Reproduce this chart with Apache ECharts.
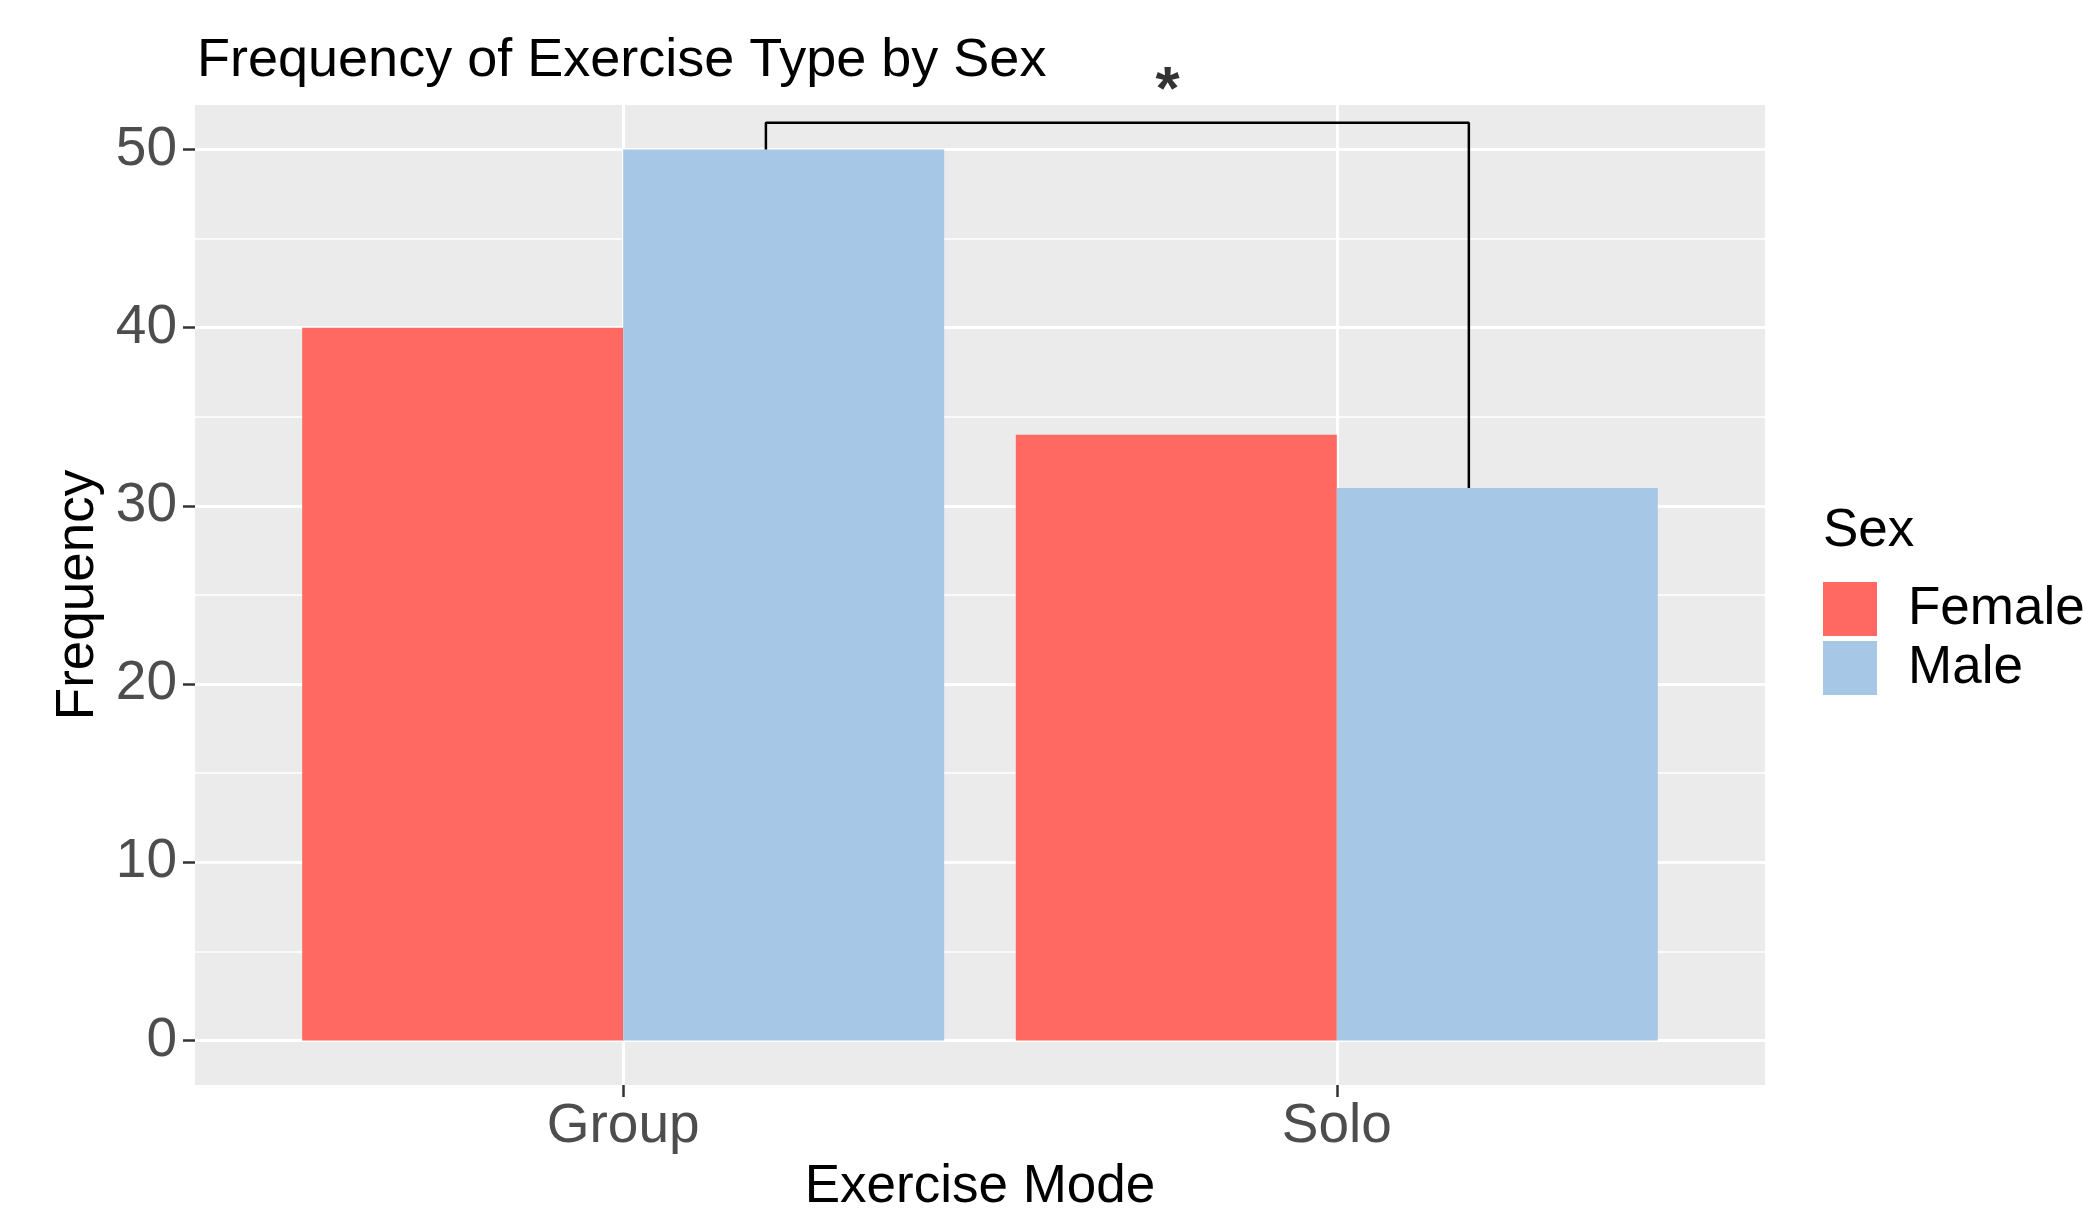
<!DOCTYPE html>
<html>
<head>
<meta charset="utf-8">
<script src="https://cdn.jsdelivr.net/npm/echarts@6/dist/echarts.min.js"></script>
<style>
  html, body { margin: 0; padding: 0; background: #fff; }
  #chart { width: 2083px; height: 1209px; }
</style>
</head>
<body>
<div id="chart"></div>
<script>
const categories = ['Group', 'Solo']
const sexes = ['Female', 'Male']
const femaleCounts = [40, 34]
const maleCounts = [50, 31]
const yTicks = [0, 10, 20, 30, 40, 50]
const yMinorTicks = [5, 15, 25, 35, 45]
// significance bracket and its star
const bracketX = [1.2, 2.185]
const bracketTop = 51.5
const starPos = [1.76, 54]

const font = 'Liberation Sans, Arial, Helvetica, sans-serif'
const catPos = categories.map((c, i) => i + 1)

const chart = echarts.init(document.getElementById('chart'))

chart.setOption({
  animation: false,
  title: [{
    text: 'Frequency of Exercise Type by Sex',
    left: 192,
    top: 29,
    textStyle: { fontFamily: font, fontSize: 54, fontWeight: 'normal', color: '#000' }
  }, {
    text: 'Sex',
    left: 1818,
    top: 500,
    textStyle: { fontFamily: font, fontSize: 53, fontWeight: 'normal', color: '#000' }
  }],
  legend: {
    orient: 'vertical',
    left: 1818,
    top: 577,
    itemWidth: 54,
    itemHeight: 54,
    itemGap: 5,
    icon: 'rect',
    data: sexes,
    textStyle: { fontFamily: font, fontSize: 53, color: '#000', padding: [0, 0, 0, 26] }
  },
  grid: {
    left: 195,
    top: 105,
    width: 1570,
    height: 980,
    show: true,
    backgroundColor: '#EBEBEB',
    borderWidth: 0,
    containLabel: false,
    outerBoundsMode: 'none'
  },
  xAxis: {
    type: 'value',
    min: 0.4,
    max: 2.6,
    name: 'Exercise Mode',
    nameLocation: 'middle',
    nameGap: 76,
    nameTextStyle: { fontFamily: font, fontSize: 53, color: '#000' },
    axisLine: { show: false, onZero: false },
    axisTick: { show: true, length: 12, customValues: catPos, lineStyle: { color: '#333', width: 2.5 } },
    axisLabel: {
      customValues: catPos,
      margin: 14,
      fontFamily: font,
      fontSize: 55,
      color: '#4D4D4D',
      formatter: v => categories[Math.round(v) - 1]
    },
    splitLine: { show: true, lineStyle: { color: '#fff', width: 3 } }
  },
  yAxis: [{
    type: 'value',
    min: -2.5,
    max: 52.5,
    name: 'Frequency',
    nameLocation: 'middle',
    nameRotate: 90,
    nameGap: 86,
    nameTextStyle: { fontFamily: font, fontSize: 53, color: '#000' },
    axisLine: { show: false, onZero: false },
    axisTick: { show: true, length: 12, customValues: yTicks, lineStyle: { color: '#333', width: 2.5 } },
    axisLabel: { customValues: yTicks, margin: 18, fontFamily: font, fontSize: 55, color: '#4D4D4D' },
    splitLine: { show: true, lineStyle: { color: '#fff', width: 3 } }
  }, {
    type: 'value',
    min: -2.5,
    max: 52.5,
    position: 'left',
    axisLine: { show: false, onZero: false },
    axisTick: { show: false, customValues: yMinorTicks },
    axisLabel: { show: false, customValues: yMinorTicks },
    splitLine: { show: true, lineStyle: { color: '#fff', width: 1.5 } }
  }],
  series: [{
    name: 'Female',
    type: 'bar',
    barWidth: 321,
    barGap: '0%',
    itemStyle: { color: '#FF6961' },
    data: catPos.map((x, i) => [x, femaleCounts[i]]),
    z: 3
  }, {
    name: 'Male',
    type: 'bar',
    barWidth: 321,
    barGap: '0%',
    itemStyle: { color: '#A7C7E7' },
    data: catPos.map((x, i) => [x, maleCounts[i]]),
    z: 3
  }, {
    type: 'line',
    symbol: 'none',
    silent: true,
    lineStyle: { color: '#000', width: 2.5 },
    data: [
      [bracketX[0], maleCounts[0]],
      [bracketX[0], bracketTop],
      [bracketX[1], bracketTop],
      [bracketX[1], maleCounts[1]]
    ],
    z: 4
  }, {
    type: 'scatter',
    symbolSize: 1,
    itemStyle: { color: 'rgba(0,0,0,0)' },
    clip: false,
    silent: true,
    label: {
      show: true,
      position: 'inside',
      formatter: '*',
      fontFamily: font,
      fontSize: 62,
      fontWeight: 'bold',
      color: '#000',
      offset: [2, 14]
    },
    data: [starPos],
    z: 5
  }]
})
</script>
</body>
</html>
